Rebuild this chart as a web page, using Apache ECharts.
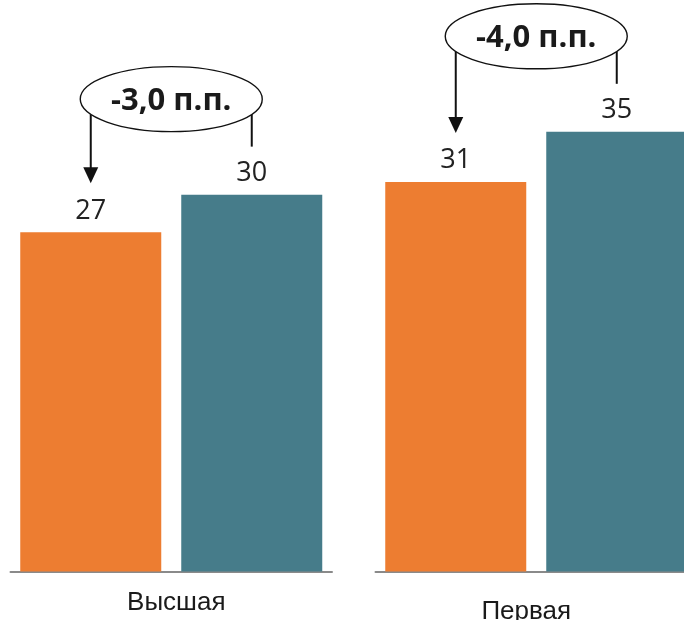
<!DOCTYPE html>
<html>
<head>
<meta charset="utf-8">
<script src="https://cdn.jsdelivr.net/npm/echarts@6/dist/echarts.min.js"></script>
<style>
  html, body { margin: 0; padding: 0; background: #ffffff; }
  #chart { width: 684px; height: 620px; }
</style>
</head>
<body>
<div id="chart"></div>
<script>
// ---- data ----
const categories = ['Высшая', 'Первая'];
const seriesOrange = [27, 31];
const seriesTeal = [30, 35];
const diffLabels = ['-3,0 п.п.', '-4,0 п.п.'];

// ---- layout / style constants ----
const BAR_W = 141;
const BAR_GAP = 20;
const ORANGE = '#ED7D31';
const TEAL = '#467C8A';
const gridLefts = [10.5, 375.5];
const gridWidth = 321.5;
const labelPads = [[0, 0, 0, 10], [5, 20, 0, 0]];

const chart = echarts.init(document.getElementById('chart'), null, { renderer: 'canvas' });

function makeAnnotation(idx) {
  return function (params, api) {
    const cat = api.value(0);
    const cx = api.coord([cat, 0])[0];
    const yA = api.coord([cat, api.value(1)])[1];
    const yB = api.coord([cat, api.value(2)])[1];
    const off = (BAR_W + BAR_GAP) / 2;
    const xA = cx - off, xB = cx + off;
    const rx = 91, ry = 32.5;
    const cy = yB - 95.5;
    const lineTop = cy + ry * Math.sqrt(Math.max(0, 1 - (off / rx) * (off / rx)));
    const tipY = yA - 49;
    const headH = 16, headW = 15;
    return {
      type: 'group',
      children: [
        { type: 'line', shape: { x1: xA, y1: lineTop, x2: xA, y2: tipY - headH + 1 },
          style: { stroke: '#111', lineWidth: 2 } },
        { type: 'polygon', shape: { points: [[xA - headW / 2, tipY - headH], [xA + headW / 2, tipY - headH], [xA, tipY]] },
          style: { fill: '#111' } },
        { type: 'line', shape: { x1: xB, y1: lineTop, x2: xB, y2: yB - 48 },
          style: { stroke: '#111', lineWidth: 2 } },
        { type: 'ellipse', shape: { cx: cx, cy: cy, rx: rx, ry: ry },
          style: { fill: '#fff', stroke: '#111', lineWidth: 1.4 } },
        { type: 'text', x: cx, y: cy + 2,
          style: { text: diffLabels[idx], fill: '#1a1a1a', font: 'bold 31px "Open Sans"', align: 'center', verticalAlign: 'middle' } }
      ]
    };
  };
}

const grids = [], xAxes = [], yAxes = [], series = [];
categories.forEach(function (c, i) {
  grids.push({ left: gridLefts[i], width: gridWidth, top: 69, bottom: 48.5, containLabel: false, outerBoundsMode: 'none' });
  xAxes.push({
    type: 'category', gridIndex: i, data: [c],
    axisLine: { show: true, lineStyle: { color: '#8a8a8a', width: 2 } },
    axisTick: { show: false },
    axisLabel: { show: true, margin: i === 0 ? 18 : 22, fontSize: 26, color: '#1a1a1a',
      fontFamily: '"Liberation Sans", Arial, sans-serif', padding: labelPads[i] }
  });
  yAxes.push({ type: 'value', gridIndex: i, min: 0, max: 40, show: false, splitLine: { show: false } });
  const lbl = { show: true, position: 'top', distance: 8, fontSize: 27, color: '#222', fontFamily: '"Open Sans", sans-serif' };
  series.push({
    type: 'bar', xAxisIndex: i, yAxisIndex: i, data: [seriesOrange[i]],
    barWidth: BAR_W, barGap: (BAR_GAP / BAR_W * 100) + '%',
    itemStyle: { color: ORANGE }, label: lbl, silent: true
  });
  series.push({
    type: 'bar', xAxisIndex: i, yAxisIndex: i, data: [seriesTeal[i]],
    barWidth: BAR_W, barGap: (BAR_GAP / BAR_W * 100) + '%',
    itemStyle: { color: TEAL }, label: lbl, silent: true
  });
  series.push({
    type: 'custom', xAxisIndex: i, yAxisIndex: i, z: 10, clip: false, silent: true,
    renderItem: makeAnnotation(i),
    data: [[0, seriesOrange[i], seriesTeal[i]]]
  });
});

chart.setOption({
  animation: false,
  backgroundColor: '#ffffff',
  grid: grids,
  xAxis: xAxes,
  yAxis: yAxes,
  series: series
});
</script>
</body>
</html>
